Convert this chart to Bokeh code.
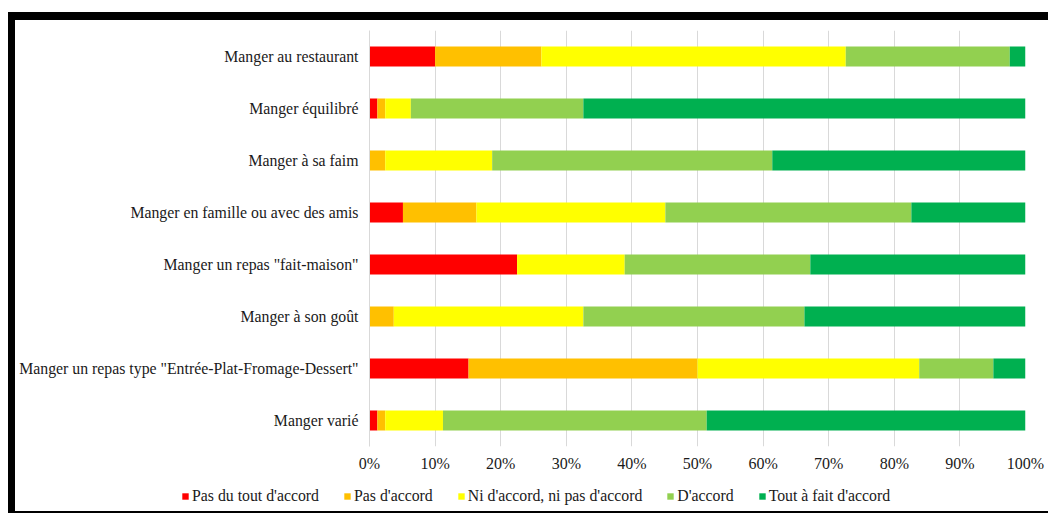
from bokeh.plotting import figure
from bokeh.models import ColumnDataSource, Range1d, FactorRange, Legend, LegendItem, FixedTicker, NumeralTickFormatter
from bokeh.embed import file_html
from bokeh.resources import INLINE

categories = [
    "Manger au restaurant",
    "Manger équilibré",
    "Manger à sa faim",
    "Manger en famille ou avec des amis",
    'Manger un repas "fait-maison"',
    "Manger à son goût",
    'Manger un repas type "Entrée-Plat-Fromage-Dessert"',
    "Manger varié",
]
series_names = ["Pas du tout d'accord", "Pas d'accord", "Ni d'accord, ni pas d'accord", "D'accord", "Tout à fait d'accord"]
colors = ["#FF0000", "#FFC000", "#FFFF00", "#92D050", "#00B050"]

pas_du_tout = [10.0, 1.2, 0.0, 5.1, 22.5, 0.0, 15.1, 1.2]
pas_accord = [16.2, 1.2, 2.4, 11.2, 0.0, 3.7, 34.9, 1.2]
neutre = [46.4, 3.9, 16.3, 28.8, 16.4, 28.9, 33.8, 8.8]
accord = [25.0, 26.3, 42.7, 37.5, 28.3, 33.7, 11.3, 40.2]
tout_a_fait = [2.4, 67.4, 38.6, 17.4, 32.8, 33.7, 4.9, 48.6]

ticks = [0, 0.1, 0.2, 0.3, 0.4, 0.5, 0.6, 0.7, 0.8, 0.9, 1.0]

keys = ["s0", "s1", "s2", "s3", "s4"]
series = [pas_du_tout, pas_accord, neutre, accord, tout_a_fait]
data = {"cat": categories}
for k, s in zip(keys, series):
    data[k] = [v / 100.0 for v in s]
source = ColumnDataSource(data)

FONT = "Liberation Serif"
TXT = "#1a1a1a"

# main chart
p = figure(
    width=1040, height=472,
    y_range=FactorRange(factors=list(reversed(categories))),
    x_range=Range1d(0, 1),
    output_backend="svg", toolbar_location=None,
    min_border_left=354, min_border_right=30, min_border_top=10, min_border_bottom=46,
)
p.y_range.range_padding = 0
p.styles = {"margin-left": "8px", "margin-top": "12px",
            "border-top": "8px solid black", "border-left": "7px solid black",
            "overflow": "hidden"}

p.hbar_stack(keys, y="cat", height=0.385, color=colors, line_color=None, source=source)

p.outline_line_color = None
p.xgrid.grid_line_color = "#D9D9D9"
p.ygrid.grid_line_color = None

p.xaxis.ticker = FixedTicker(ticks=ticks)
p.xaxis.formatter = NumeralTickFormatter(format="0%")
p.xaxis.axis_line_color = None
p.xaxis.major_tick_line_color = None
p.xaxis.minor_tick_line_color = None
p.xaxis.major_label_text_font = FONT
p.xaxis.major_label_text_font_size = "16px"
p.xaxis.major_label_text_color = TXT
p.xaxis.major_label_standoff = 2

p.yaxis.axis_line_color = "#D9D9D9"
p.yaxis.major_tick_line_color = None
p.yaxis.minor_tick_line_color = None
p.yaxis.major_label_text_font = FONT
p.yaxis.major_label_text_font_size = "15.8px"
p.yaxis.major_label_text_color = TXT
p.yaxis.major_label_standoff = 5

# legend strip (separate root, so its frame is not aligned with the chart's)
q = figure(
    width=1040, height=29,
    y_range=FactorRange(factors=list(reversed(categories))),
    x_range=Range1d(0, 1),
    x_axis_type=None, y_axis_type=None,
    output_backend="svg", toolbar_location=None,
    min_border_left=0, min_border_right=0, min_border_top=0, min_border_bottom=0,
)
q.styles = {"margin-left": "8px", "border-left": "7px solid black",
            "border-bottom": "2px solid black", "overflow": "hidden"}
q.outline_line_color = None
q.grid.grid_line_color = None
leg_renderers = q.hbar_stack(keys, y="cat", height=0.385, color=colors, line_color=None, source=source)
for r in leg_renderers:
    r.visible = False

items = [LegendItem(label=n, renderers=[r], index=0) for n, r in zip(series_names, leg_renderers)]
legend = Legend(items=items, orientation="horizontal", location=(166, 8),
                glyph_width=8, glyph_height=8, label_standoff=3, spacing=24,
                label_text_font=FONT, label_text_font_size="15.8px",
                label_text_color=TXT, border_line_color=None, background_fill_alpha=0,
                padding=0, margin=0)
q.add_layout(legend, "center")

open("out.html", "w").write(file_html([p, q], INLINE))
